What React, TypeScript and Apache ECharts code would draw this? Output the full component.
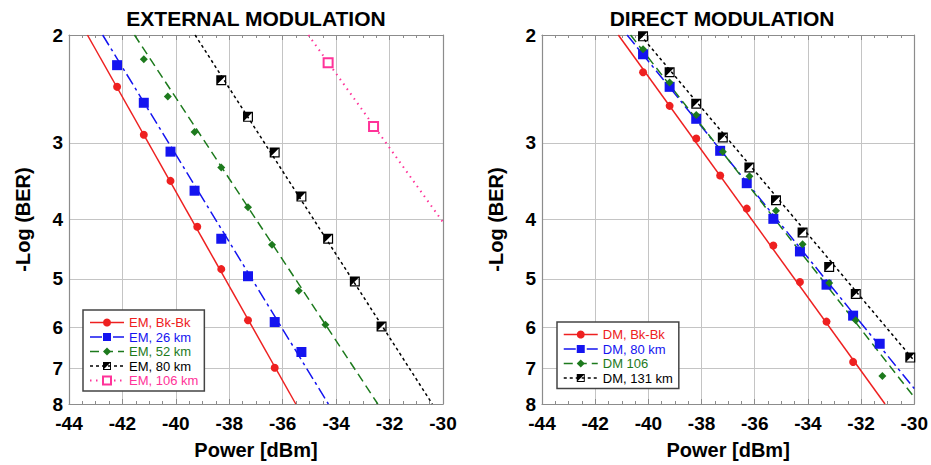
import React, { useEffect, useRef } from "react";
import * as echarts from "echarts";

// ---------- data ----------
const yTickValues = [2, 3, 4, 5, 6, 7, 8];

// External modulation (power dBm, -log BER)
const emBkBkPower = [-42.2, -41.2, -40.2, -39.2, -38.3, -37.3, -36.3];
const emBkBkBer = [2.43, 2.91, 3.46, 4.11, 4.82, 5.84, 6.98];
const em26Power = [-42.2, -41.2, -40.2, -39.3, -38.3, -37.3, -36.3, -35.3];
const em26Ber = [2.24, 2.58, 3.1, 3.59, 4.3, 4.95, 5.88, 6.58];
const em52Power = [-41.2, -40.3, -39.3, -38.3, -37.3, -36.4, -35.4, -34.4];
const em52Ber = [2.19, 2.52, 2.88, 3.29, 3.82, 4.4, 5.23, 5.94];
const em80Power = [-38.3, -37.3, -36.3, -35.3, -34.3, -33.3, -32.3];
const em80Ber = [2.37, 2.72, 3.11, 3.67, 4.3, 5.05, 5.98];
const em106Power = [-34.3, -32.6];
const em106Ber = [2.22, 2.82];

// fitted lines (end points)
const emBkBkFitPower = [-43.31, -35.51];
const emBkBkFitBer = [2, 8];
const em26FitPower = [-42.74, -34.29];
const em26FitBer = [2, 8];
const em52FitPower = [-41.55, -32.44];
const em52FitBer = [2, 8];
const em80FitPower = [-39.28, -30.4];
const em80FitBer = [2, 8];
const em106FitPower = [-35.04, -30];
const em106FitBer = [2, 4.04];

// Direct modulation
const dmBkBkPower = [-40.2, -39.2, -38.2, -37.3, -36.3, -35.3, -34.3, -33.3, -32.3];
const dmBkBkBer = [2.3, 2.61, 2.95, 3.39, 3.84, 4.41, 5.06, 5.87, 6.83];
const dm80Power = [-40.2, -39.2, -38.2, -37.3, -36.3, -35.3, -34.3, -33.3, -32.3, -31.3];
const dm80Ber = [2.15, 2.43, 2.74, 3.09, 3.49, 3.99, 4.51, 5.11, 5.74, 6.38];
const dm106Power = [-40.2, -39.2, -38.2, -37.2, -36.2, -35.2, -34.2, -33.2, -32.2, -31.2];
const dm106Ber = [2.11, 2.39, 2.7, 3.1, 3.4, 3.87, 4.39, 5.08, 5.84, 7.2];
const dm131Power = [-40.2, -39.2, -38.2, -37.2, -36.2, -35.2, -34.2, -33.2, -32.2, -30.15];
const dm131Ber = [2.01, 2.3, 2.59, 2.94, 3.29, 3.72, 4.2, 4.78, 5.29, 6.72];

const dmBkBkFitPower = [-41.13, -31.1];
const dmBkBkFitBer = [2, 8];
const dm80FitPower = [-40.8, -30];
const dm80FitBer = [2, 7.55];
const dm106FitPower = [-40.67, -30];
const dm106FitBer = [2, 7.8];
const dm131FitPower = [-40.3, -30];
const dm131FitBer = [2, 6.8];

// ---------- styles ----------
const FONT = "'Liberation Sans', Arial, sans-serif";
const RED = "#ee2020";
const BLUE = "#1414f0";
const GREEN = "#1d7a1d";
const BLACK = "#000000";
const PINK = "#ff3399";
const GRID_COLOR = "#c4c4c4";
const FRAME_COLOR = "#8c8c8c";

const HALF_SQUARE =
  "path://M0,0L10,0L10,10L0,10Z M1.2,1.2L1.2,8.8L8.8,8.8L8.8,1.2Z M1.2,1.2L8.8,1.2L1.2,8.8Z";

const DASH_DOT = [12, 4, 3, 4];
const LONG_DASH = [9, 5];
const SHORT_DASH = [3, 3];
const DOTTED = [1.5, 4.5];

const zip = (a: number[], b: number[]) => a.map((v, i) => [v, b[i]]);

function markerSeries(
  name: string,
  power: number[],
  ber: number[],
  color: string,
  symbol: string,
  size: number,
  axis: number
) {
  return {
    type: "line",
    name,
    xAxisIndex: axis,
    yAxisIndex: axis,
    data: zip(power, ber),
    symbol,
    symbolSize: size,
    showSymbol: true,
    lineStyle: { opacity: 0, width: 0 },
    itemStyle: symbol === "emptyRect" ? { color, borderWidth: 1.5 } : { color },
    z: 5,
    silent: true,
    emphasis: { disabled: true },
  };
}

function fitSeries(
  name: string,
  power: number[],
  ber: number[],
  color: string,
  dash: any,
  width: number,
  axis: number
) {
  return {
    type: "line",
    name,
    xAxisIndex: axis,
    yAxisIndex: axis,
    data: zip(power, ber),
    symbol: "none",
    showSymbol: false,
    lineStyle: { color, width, type: dash },
    z: 3,
    silent: true,
    emphasis: { disabled: true },
  };
}

function legendItem(name: string, color: string, dash: any, width: number) {
  return {
    name,
    lineStyle: { color, width, type: dash, opacity: 1 },
    textStyle: { color },
  };
}

const labelStyle = {
  fontFamily: FONT,
  fontWeight: "bold",
  fontSize: 19,
  color: "#000",
};
const nameStyle = {
  fontFamily: FONT,
  fontWeight: "bold",
  fontSize: 20,
  color: "#000",
};

function xAxes(grid: number) {
  return [
    {
      type: "value",
      gridIndex: grid,
      position: "bottom",
      min: -44,
      max: -30,
      interval: 2,
      name: "Power [dBm]",
      nameLocation: "middle",
      nameGap: 36,
      nameTextStyle: nameStyle,
      axisLine: { show: true, onZero: false, lineStyle: { color: FRAME_COLOR, width: 1.2 } },
      axisTick: { show: true, inside: true, length: 5, lineStyle: { color: FRAME_COLOR } },
      minorTick: { show: true, splitNumber: 4, length: 3, lineStyle: { color: FRAME_COLOR } },
      axisLabel: { ...labelStyle, margin: 10 },
      splitLine: { show: true, lineStyle: { color: GRID_COLOR, width: 1 } },
    },
    {
      type: "value",
      gridIndex: grid,
      position: "top",
      min: -44,
      max: -30,
      interval: 2,
      axisLine: { show: true, onZero: false, lineStyle: { color: FRAME_COLOR, width: 1.2 } },
      axisTick: { show: true, inside: true, length: 5, lineStyle: { color: FRAME_COLOR } },
      minorTick: { show: true, splitNumber: 4, length: 3, lineStyle: { color: FRAME_COLOR } },
      axisLabel: { show: false },
      splitLine: { show: false },
    },
  ];
}

function yAxes(grid: number) {
  return [
    {
      type: "log",
      logBase: 10,
      gridIndex: grid,
      position: "left",
      min: 2,
      max: 8,
      inverse: true,
      name: "-Log (BER)",
      nameLocation: "middle",
      nameGap: 36,
      nameTextStyle: nameStyle,
      axisLine: { show: true, onZero: false, lineStyle: { color: FRAME_COLOR, width: 1.2 } },
      axisTick: { show: false, customValues: yTickValues },
      axisLabel: {
        ...labelStyle,
        margin: 6,
        customValues: yTickValues,
        formatter: (v: number) => String(Math.round(v)),
      },
      splitLine: { show: true, lineStyle: { color: GRID_COLOR, width: 1 } },
    },
    {
      type: "log",
      logBase: 10,
      gridIndex: grid,
      position: "right",
      min: 2,
      max: 8,
      inverse: true,
      axisLine: { show: true, onZero: false, lineStyle: { color: FRAME_COLOR, width: 1.2 } },
      axisTick: { show: false },
      axisLabel: { show: false },
      splitLine: { show: false },
    },
  ];
}

const legendBase = {
  orient: "vertical",
  itemWidth: 34,
  itemHeight: 10,
  itemGap: 1.5,
  padding: [6, 6, 4, 6],
  borderColor: "#444",
  borderWidth: 1.5,
  borderRadius: 0,
  backgroundColor: "#fff",
  selectedMode: false,
  textStyle: { fontFamily: FONT, fontSize: 13 },
};

const titleStyle = {
  align: "center",
  verticalAlign: "middle",
  fontFamily: FONT,
  fontWeight: "bold",
  fontSize: 21,
  fill: "#000",
};

export default function App() {
  const ref = useRef<HTMLDivElement>(null);

  useEffect(() => {
    if (!ref.current) return;
    const chart = echarts.init(ref.current, undefined, { renderer: "svg" });

    const option: any = {
      animation: false,
      backgroundColor: "#fff",
      grid: [
        { left: 69, top: 35, width: 374, height: 375 },
        { left: 542, top: 35, width: 375, height: 375 },
      ],
      xAxis: [...xAxes(0), ...xAxes(1)],
      yAxis: [...yAxes(0), ...yAxes(1)],
      graphic: [
        {
          type: "text",
          x: 256,
          y: 18,
          style: { ...titleStyle, text: "EXTERNAL MODULATION" },
        },
        {
          type: "text",
          x: 722,
          y: 18,
          style: { ...titleStyle, text: "DIRECT MODULATION" },
        },
      ],
      legend: [
        {
          ...legendBase,
          left: 83,
          top: 310,
          data: [
            legendItem("EM, Bk-Bk", RED, "solid", 1.5),
            legendItem("EM, 26 km", BLUE, DASH_DOT, 1.5),
            legendItem("EM, 52 km", GREEN, LONG_DASH, 1.5),
            legendItem("EM, 80 km", BLACK, SHORT_DASH, 1.5),
            legendItem("EM, 106 km", PINK, DOTTED, 2),
          ],
        },
        {
          ...legendBase,
          left: 557,
          top: 322,
          data: [
            legendItem("DM, Bk-Bk", RED, "solid", 1.5),
            legendItem("DM, 80 km", BLUE, DASH_DOT, 1.5),
            legendItem("DM 106", GREEN, LONG_DASH, 1.5),
            legendItem("DM, 131 km", BLACK, SHORT_DASH, 1.5),
          ],
        },
      ],
      series: [
        fitSeries("fit-em-bkbk", emBkBkFitPower, emBkBkFitBer, RED, "solid", 1.5, 0),
        fitSeries("fit-em-26", em26FitPower, em26FitBer, BLUE, DASH_DOT, 1.5, 0),
        fitSeries("fit-em-52", em52FitPower, em52FitBer, GREEN, LONG_DASH, 1.5, 0),
        fitSeries("fit-em-80", em80FitPower, em80FitBer, BLACK, SHORT_DASH, 1.5, 0),
        fitSeries("fit-em-106", em106FitPower, em106FitBer, PINK, DOTTED, 2, 0),
        markerSeries("EM, Bk-Bk", emBkBkPower, emBkBkBer, RED, "circle", 8, 0),
        markerSeries("EM, 26 km", em26Power, em26Ber, BLUE, "rect", 10, 0),
        markerSeries("EM, 52 km", em52Power, em52Ber, GREEN, "diamond", 8, 0),
        markerSeries("EM, 80 km", em80Power, em80Ber, BLACK, HALF_SQUARE, 10, 0),
        markerSeries("EM, 106 km", em106Power, em106Ber, PINK, "emptyRect", 9, 0),

        fitSeries("fit-dm-bkbk", dmBkBkFitPower, dmBkBkFitBer, RED, "solid", 1.5, 2),
        fitSeries("fit-dm-80", dm80FitPower, dm80FitBer, BLUE, DASH_DOT, 1.5, 2),
        fitSeries("fit-dm-106", dm106FitPower, dm106FitBer, GREEN, LONG_DASH, 1.5, 2),
        fitSeries("fit-dm-131", dm131FitPower, dm131FitBer, BLACK, SHORT_DASH, 1.5, 2),
        markerSeries("DM, Bk-Bk", dmBkBkPower, dmBkBkBer, RED, "circle", 8, 2),
        markerSeries("DM, 80 km", dm80Power, dm80Ber, BLUE, "rect", 10, 2),
        markerSeries("DM 106", dm106Power, dm106Ber, GREEN, "diamond", 8, 2),
        markerSeries("DM, 131 km", dm131Power, dm131Ber, BLACK, HALF_SQUARE, 10, 2),
      ],
    };

    chart.setOption(option);
    return () => chart.dispose();
  }, []);

  return (
    <div
      ref={ref}
      style={{ position: "absolute", left: 0, top: 0, width: 931, height: 465, background: "#fff" }}
    />
  );
}
